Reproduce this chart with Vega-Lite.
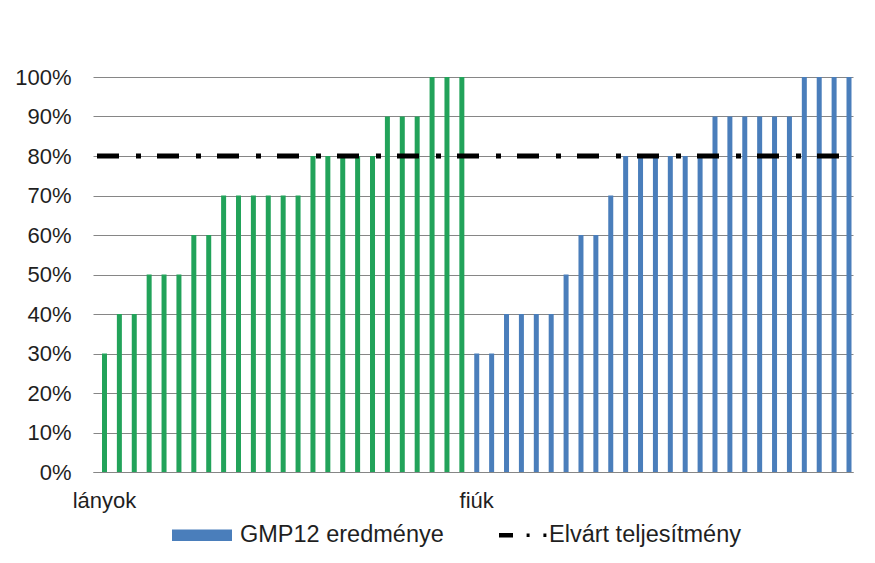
{
  "$schema": "https://vega.github.io/schema/vega-lite/v6.json",
  "width": 760,
  "height": 395,
  "autosize": {"type": "none"},
  "padding": {"left": 93, "top": 77, "right": 22, "bottom": 91},
  "background": "#ffffff",
  "config": {
    "view": {"stroke": null},
    "font": "Liberation Sans",
    "axis": {"labelFont": "Liberation Sans", "labelFontSize": 22, "labelColor": "#1f1f1f"},
    "axisY": {
      "values": [0, 0.1, 0.2, 0.3, 0.4, 0.5, 0.6, 0.7, 0.8, 0.9, 1.0],
      "labelOverlap": false,
      "labelBound": false,
      "ticks": false,
      "tickSize": 0,
      "labelPadding": 22,
      "domain": false,
      "grid": true,
      "gridColor": "#868686",
      "gridWidth": 1,
      "format": ".0%",
      "title": null
    },
    "legend": {"labelFont": "Liberation Sans", "labelFontSize": 23.5, "labelColor": "#1f1f1f"}
  },
  "layer": [
    {
      "data": {
        "values": [
          {"id": 1, "group": "lányok", "value": 0.3},
          {"id": 2, "group": "lányok", "value": 0.4},
          {"id": 3, "group": "lányok", "value": 0.4},
          {"id": 4, "group": "lányok", "value": 0.5},
          {"id": 5, "group": "lányok", "value": 0.5},
          {"id": 6, "group": "lányok", "value": 0.5},
          {"id": 7, "group": "lányok", "value": 0.6},
          {"id": 8, "group": "lányok", "value": 0.6},
          {"id": 9, "group": "lányok", "value": 0.7},
          {"id": 10, "group": "lányok", "value": 0.7},
          {"id": 11, "group": "lányok", "value": 0.7},
          {"id": 12, "group": "lányok", "value": 0.7},
          {"id": 13, "group": "lányok", "value": 0.7},
          {"id": 14, "group": "lányok", "value": 0.7},
          {"id": 15, "group": "lányok", "value": 0.8},
          {"id": 16, "group": "lányok", "value": 0.8},
          {"id": 17, "group": "lányok", "value": 0.8},
          {"id": 18, "group": "lányok", "value": 0.8},
          {"id": 19, "group": "lányok", "value": 0.8},
          {"id": 20, "group": "lányok", "value": 0.9},
          {"id": 21, "group": "lányok", "value": 0.9},
          {"id": 22, "group": "lányok", "value": 0.9},
          {"id": 23, "group": "lányok", "value": 1.0},
          {"id": 24, "group": "lányok", "value": 1.0},
          {"id": 25, "group": "lányok", "value": 1.0},
          {"id": 26, "group": "fiúk", "value": 0.3},
          {"id": 27, "group": "fiúk", "value": 0.3},
          {"id": 28, "group": "fiúk", "value": 0.4},
          {"id": 29, "group": "fiúk", "value": 0.4},
          {"id": 30, "group": "fiúk", "value": 0.4},
          {"id": 31, "group": "fiúk", "value": 0.4},
          {"id": 32, "group": "fiúk", "value": 0.5},
          {"id": 33, "group": "fiúk", "value": 0.6},
          {"id": 34, "group": "fiúk", "value": 0.6},
          {"id": 35, "group": "fiúk", "value": 0.7},
          {"id": 36, "group": "fiúk", "value": 0.8},
          {"id": 37, "group": "fiúk", "value": 0.8},
          {"id": 38, "group": "fiúk", "value": 0.8},
          {"id": 39, "group": "fiúk", "value": 0.8},
          {"id": 40, "group": "fiúk", "value": 0.8},
          {"id": 41, "group": "fiúk", "value": 0.8},
          {"id": 42, "group": "fiúk", "value": 0.9},
          {"id": 43, "group": "fiúk", "value": 0.9},
          {"id": 44, "group": "fiúk", "value": 0.9},
          {"id": 45, "group": "fiúk", "value": 0.9},
          {"id": 46, "group": "fiúk", "value": 0.9},
          {"id": 47, "group": "fiúk", "value": 0.9},
          {"id": 48, "group": "fiúk", "value": 1.0},
          {"id": 49, "group": "fiúk", "value": 1.0},
          {"id": 50, "group": "fiúk", "value": 1.0},
          {"id": 51, "group": "fiúk", "value": 1.0}
        ]
      },
      "mark": {"type": "bar"},
      "encoding": {
        "x": {
          "field": "id",
          "type": "ordinal",
          "scale": {"paddingInner": 0.664, "paddingOuter": 0.352, "align": 0.857},
          "axis": {
            "title": null,
            "labelAngle": 0,
            "ticks": false,
            "tickSize": 0,
            "labelPadding": 18,
            "labelDx": -4,
            "labelOverlap": false,
            "labelBound": false,
            "labelExpr": "datum.value == 1 ? 'lányok' : (datum.value == 26 ? 'fiúk' : '')",
            "domainColor": "#868686",
            "domainWidth": 1,
            "grid": false
          }
        },
        "y": {
          "field": "value",
          "type": "quantitative",
          "scale": {"domain": [0, 1], "nice": false}
        },
        "color": {
          "field": "group",
          "type": "nominal",
          "scale": {"domain": ["lányok", "fiúk"], "range": ["#22A35A", "#4A7EBB"]},
          "legend": null
        }
      }
    },
    {
      "data": {"values": [{"target": 0.8}]},
      "mark": {"type": "rule", "color": "#000000", "strokeWidth": 5, "strokeDash": [22, 16, 5, 17], "strokeDashOffset": 46, "strokeCap": "butt"},
      "encoding": {
        "y": {"field": "target", "type": "quantitative"}
      }
    },
    {
      "data": {"values": [{"series": "GMP12 eredménye"}, {"series": "Elvárt teljesítmény"}]},
      "mark": {"type": "point", "filled": true, "opacity": 0},
      "encoding": {
        "shape": {
          "field": "series",
          "type": "nominal",
          "scale": {
            "domain": ["GMP12 eredménye", "Elvárt teljesítmény"],
            "range": ["M-1,-0.19H1V0.19H-1Z", "M-0.4,-0.075H0.067V0.075H-0.4Z M0.52,-0.06H0.62V0.06H0.52Z M1.08,-0.06H1.18V0.06H1.08Z"]
          },
          "legend": {
            "title": null,
            "orient": "none",
            "direction": "horizontal",
            "legendX": 79,
            "legendY": 447,
            "symbolSize": 3600,
            "symbolOpacity": 1,
            "symbolStrokeWidth": 0,
            "clipHeight": 22,
            "labelOffset": 8,
            "labelLimit": 400,
            "columnPadding": 37,
            "padding": 0,
            "offset": 0
          }
        },
        "fill": {
          "field": "series",
          "type": "nominal",
          "scale": {"domain": ["GMP12 eredménye", "Elvárt teljesítmény"], "range": ["#4A7EBB", "#000000"]},
          "legend": {
            "title": null,
            "orient": "none",
            "direction": "horizontal",
            "legendX": 79,
            "legendY": 447,
            "symbolSize": 3600,
            "symbolOpacity": 1,
            "symbolStrokeWidth": 0,
            "clipHeight": 22,
            "labelOffset": 8,
            "labelLimit": 400,
            "columnPadding": 37,
            "padding": 0,
            "offset": 0
          }
        }
      }
    }
  ]
}
